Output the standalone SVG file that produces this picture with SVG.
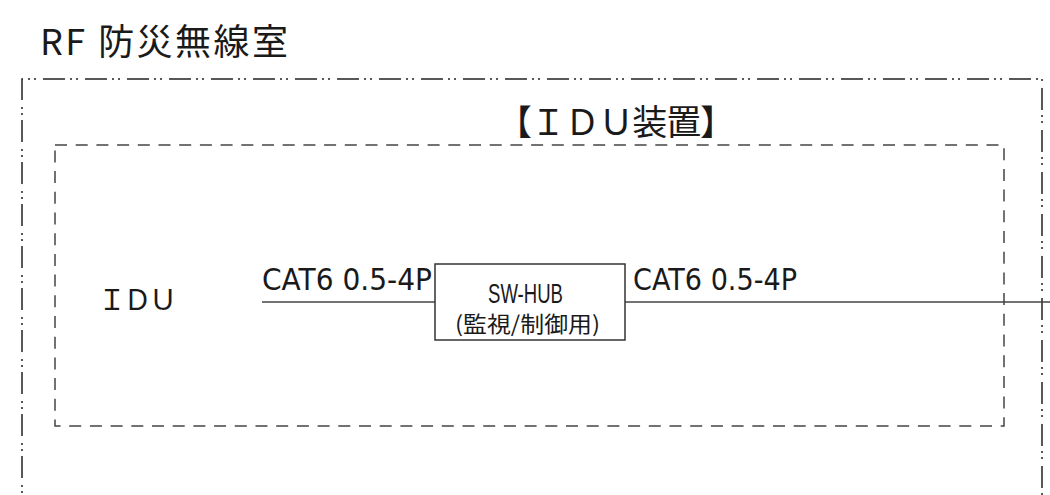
<svg xmlns="http://www.w3.org/2000/svg" width="1050" height="495" viewBox="0 0 1050 495">
<style>
.t{font-family:"Noto Sans CJK JP","Noto Sans",sans-serif;fill:#1a1a1a}
.c{font-family:"DejaVu Sans","Noto Sans CJK JP",sans-serif;fill:#1a1a1a}
.h{font-family:"Liberation Sans","Noto Sans CJK JP",sans-serif;fill:#1a1a1a}
.outer{fill:none;stroke:#222;stroke-width:1.5;stroke-dasharray:22 5 2 4 2 7}
.inner{fill:none;stroke:#444;stroke-width:1.5;stroke-dasharray:12 8.7}
.wire{fill:none;stroke:#444;stroke-width:1.5}
.box{fill:#fff;stroke:#333;stroke-width:1.5}
</style>
<rect width="1050" height="495" fill="#fff"/>
<g id="title">
<text class="t" x="40" y="55" font-size="36" textLength="248" lengthAdjust="spacing">RF 防災無線室</text>
</g>
<g id="room">
<path class="outer" d="M22,520 V79 H1042 V520"/>
</g>
<g id="idu-device">
<rect class="inner" x="55" y="145" width="949" height="281"/>
<text class="t" x="497" y="135" font-size="35" textLength="238" lengthAdjust="spacing">【ＩＤＵ装置】</text>
</g>
<g id="idu">
<text class="t" x="98" y="310" font-size="28" textLength="79" lengthAdjust="spacing">ＩＤＵ</text>
</g>
<g id="connectors">
<line class="wire" x1="262" y1="302" x2="435" y2="302"/>
<line class="wire" x1="625" y1="302" x2="1050" y2="302"/>
<text class="c" x="262" y="290" font-size="30" textLength="170" lengthAdjust="spacingAndGlyphs">CAT6 0.5-4P</text>
<text class="c" x="633" y="290" font-size="30" textLength="164" lengthAdjust="spacingAndGlyphs">CAT6 0.5-4P</text>
</g>
<g id="sw-hub">
<rect class="box" x="435" y="264" width="190" height="76"/>
<text class="h" x="488" y="303" font-size="27" textLength="75" lengthAdjust="spacingAndGlyphs">SW-HUB</text>
<text class="t" x="455" y="332" font-size="22" textLength="145" lengthAdjust="spacingAndGlyphs">(監視/制御用)</text>
</g>
</svg>
